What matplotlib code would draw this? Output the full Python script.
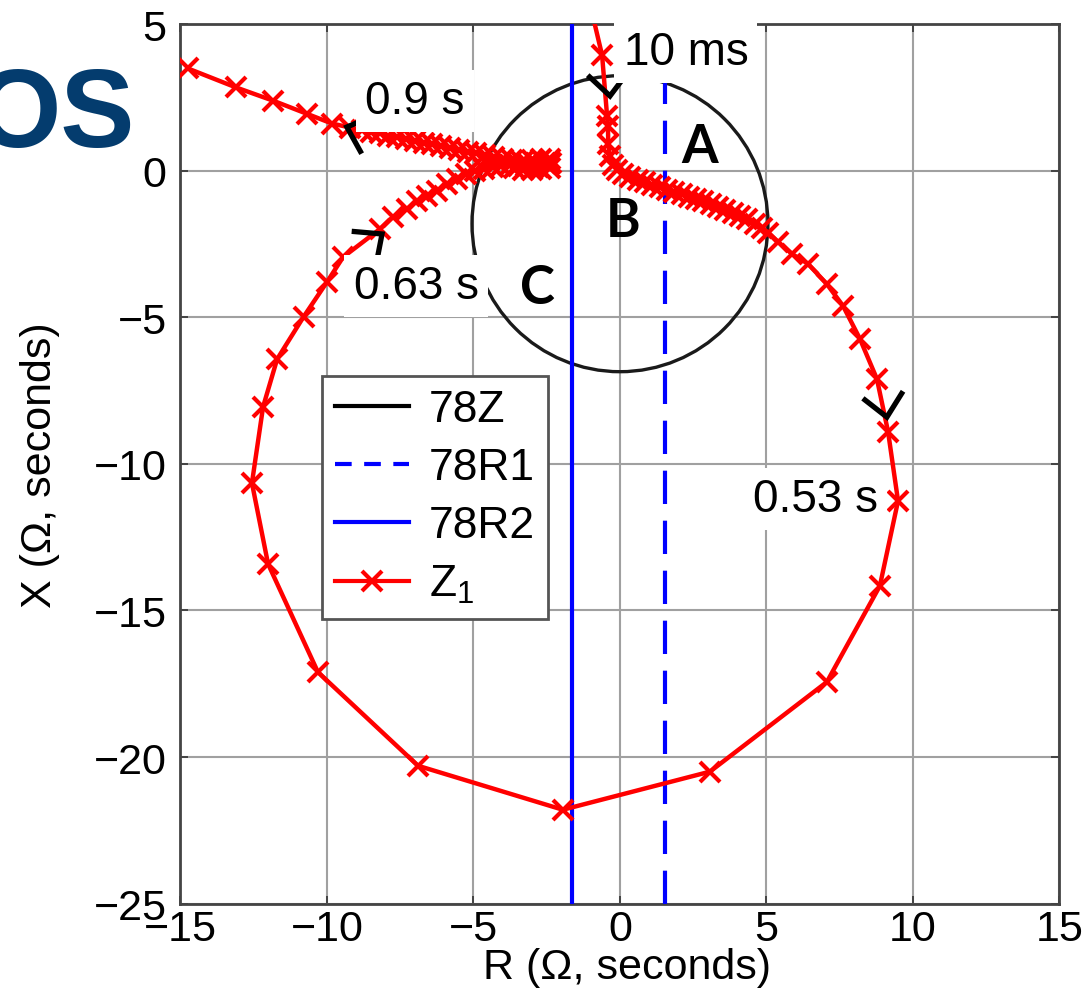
import numpy as np
import matplotlib.pyplot as plt
from matplotlib.patches import Circle
from matplotlib.lines import Line2D

plt.rcParams['font.family'] = ['Liberation Sans', 'DejaVu Sans']
plt.rcParams['mathtext.fontset'] = 'custom'
plt.rcParams['mathtext.rm'] = 'Liberation Sans'

# 78Z mho circle and the two resistive blinders
circle_center = (0.0, -1.8)
circle_radius = 5.05
r1_blinder = 1.55
r2_blinder = -1.65

# Z1 trajectory (R, X)
z1_r = [-1.0, -0.61, -0.44, -0.41, -0.40, -0.34, -0.24, -0.10,
        0.1, 0.35, 0.6, 0.85, 1.1, 1.35, 1.6, 1.85, 2.1, 2.35, 2.6, 2.85,
        3.1, 3.35, 3.6, 3.85, 4.1, 4.35, 4.6, 4.85, 5.05, 5.4, 5.87, 6.42,
        7.06, 7.61, 8.19, 8.77, 9.15, 9.49, 8.87, 7.06, 3.07, -1.95, -6.89,
        -10.31, -12.01, -12.56, -12.18, -11.7, -10.8, -10.0, -9.45, -8.19,
        -7.75, -7.27, -6.93, -6.59, -6.25, -5.9, -5.56, -5.25, -4.95, -4.65,
        -4.35, -4.05, -3.75, -3.45, -3.15, -2.85, -2.55, -2.35, -2.4, -2.7,
        -3.0, -3.3, -3.6, -3.2, -2.8, -2.45, -2.4, -2.7, -3.0, -3.35, -3.7,
        -4.0, -4.3, -4.6, -4.9, -5.2, -5.5, -5.8, -6.1, -6.4, -6.7, -7.0,
        -7.3, -7.6, -7.9, -8.2, -8.5, -8.8, -9.2, -9.83, -10.68, -11.84,
        -13.1, -14.75]
z1_x = [5.6, 3.95, 1.88, 1.54, 0.92, 0.50, 0.22, 0.05,
        -0.1, -0.2, -0.3, -0.39, -0.48, -0.56, -0.64, -0.72, -0.8, -0.88,
        -0.96, -1.04, -1.13, -1.22, -1.32, -1.42, -1.53, -1.65, -1.8, -1.95,
        -2.1, -2.42, -2.83, -3.17, -3.86, -4.6, -5.73, -7.1, -8.9, -11.26,
        -14.16, -17.44, -20.5, -21.8, -20.3, -17.1, -13.41, -10.65, -8.05,
        -6.42, -4.98, -3.79, -2.94, -1.98, -1.57, -1.3, -1.02, -0.85, -0.68,
        -0.44, -0.27, -0.12, 0.0, 0.08, 0.14, 0.18, 0.2, 0.22, 0.24, 0.26,
        0.27, 0.26, 0.1, 0.06, 0.04, 0.02, 0.1, 0.16, 0.14, 0.2, 0.4, 0.42,
        0.38, 0.32, 0.38, 0.42, 0.47, 0.53, 0.6, 0.66, 0.72, 0.78, 0.85,
        0.91, 0.97, 1.03, 1.09, 1.15, 1.21, 1.28, 1.34, 1.4, 1.48, 1.62,
        1.95, 2.4, 2.85, 3.5]

# time labels: text, position, arrow apex, travel direction (deg)
time_labels = ['10 ms', '0.9 s', '0.63 s', '0.53 s']
label_pos = [(2.25, 4.06), (-7.0, 2.39), (-6.96, -3.92), (6.66, -11.2)]
arrow_apex = [(-0.34, 2.56), (-9.32, 1.5), (-8.12, -2.15), (9.11, -8.4)]
arrow_dir = [-85, 161, 37, -80]

zone_names = ['A', 'B', 'C']
zone_pos = [(2.73, 0.85), (0.1, -1.7), (-2.83, -3.96)]

fig = plt.figure(figsize=(10.89, 10.03), dpi=100)
ax = fig.add_axes([0.1657, 0.0982, 0.8072, 0.8764])

ax.add_patch(Circle(circle_center, circle_radius, fill=False,
                    edgecolor='#1a1a1a', lw=2.4, zorder=3))
ax.axvline(r1_blinder, color='#0000ff', lw=3.0, ls=(0, (8, 4)), zorder=3)
ax.axvline(r2_blinder, color='#0000ff', lw=3.0, zorder=3)
ax.plot(z1_r, z1_x, color='#ff0000', lw=3.2, marker='x', ms=15, mew=3.0,
        zorder=4)

# black chevrons showing the direction of travel
for (ax0, ay0), ang in zip(arrow_apex, arrow_dir):
    size = 0.95
    a1 = np.radians(ang + 180 + 42)
    a2 = np.radians(ang + 180 - 42)
    ax.plot([ax0 + size * np.cos(a1), ax0, ax0 + size * np.cos(a2)],
            [ay0 + size * np.sin(a1), ay0, ay0 + size * np.sin(a2)],
            color='black', lw=3.8, solid_joinstyle='miter', zorder=5)

for txt, (tx, ty) in zip(time_labels, label_pos):
    ax.text(tx, ty, txt, fontsize=33, ha='center', va='center', zorder=6,
            bbox=dict(boxstyle='square,pad=0.2', facecolor='white',
                      edgecolor='none'))

for txt, (tx, ty) in zip(zone_names, zone_pos):
    ax.text(tx, ty, txt, fontsize=38, fontweight='bold', ha='center',
            va='center', family=['Lato', 'DejaVu Sans'], zorder=6)

ax.set_xlim(-15, 15)
ax.set_ylim(-25, 5)
ax.set_xticks(np.arange(-15, 16, 5))
ax.set_yticks(np.arange(-25, 6, 5))
ax.grid(True, color='#a0a0a0', lw=1.5)
ax.set_axisbelow(True)
ax.tick_params(direction='in', length=6, width=1.2, top=True, right=True,
               labelsize=31, colors='#333333', labelcolor='black')
ax.tick_params(axis='x', pad=4)
ax.tick_params(axis='y', pad=10)
for s in ax.spines.values():
    s.set_color('#444444')
    s.set_linewidth(2.0)

ax.set_xlabel('R (\u03a9, seconds)', fontsize=31)
ax.set_ylabel('X (\u03a9, seconds)', fontsize=31)
ax.xaxis.set_label_coords(0.508, -0.05)
ax.yaxis.set_label_coords(-0.137, 0.5)

handles = [Line2D([], [], color='black', lw=3.0),
           Line2D([], [], color='#0000ff', lw=3.0, ls=(0, (4, 3))),
           Line2D([], [], color='#0000ff', lw=3.0),
           Line2D([], [], color='#ff0000', lw=3.0, marker='x', ms=15, mew=3.0)]
leg = ax.legend(handles, ['78Z', '78R1', '78R2', r'Z$_\mathregular{1}$'],
                loc='upper left', bbox_to_anchor=(0.161, 0.600),
                borderaxespad=0, fontsize=32, fancybox=False, framealpha=1,
                edgecolor='#555555', handlelength=1.65, handletextpad=0.45,
                labelspacing=0.38, borderpad=0.3)
leg.get_frame().set_linewidth(2.0)
leg.set_zorder(7)

fig.text(135 / 1089, 1 - 118 / 1003, 'OS', fontsize=80, fontweight='bold',
         color='#043c6e', ha='right', va='center')

fig.savefig('out.png', dpi=100)
